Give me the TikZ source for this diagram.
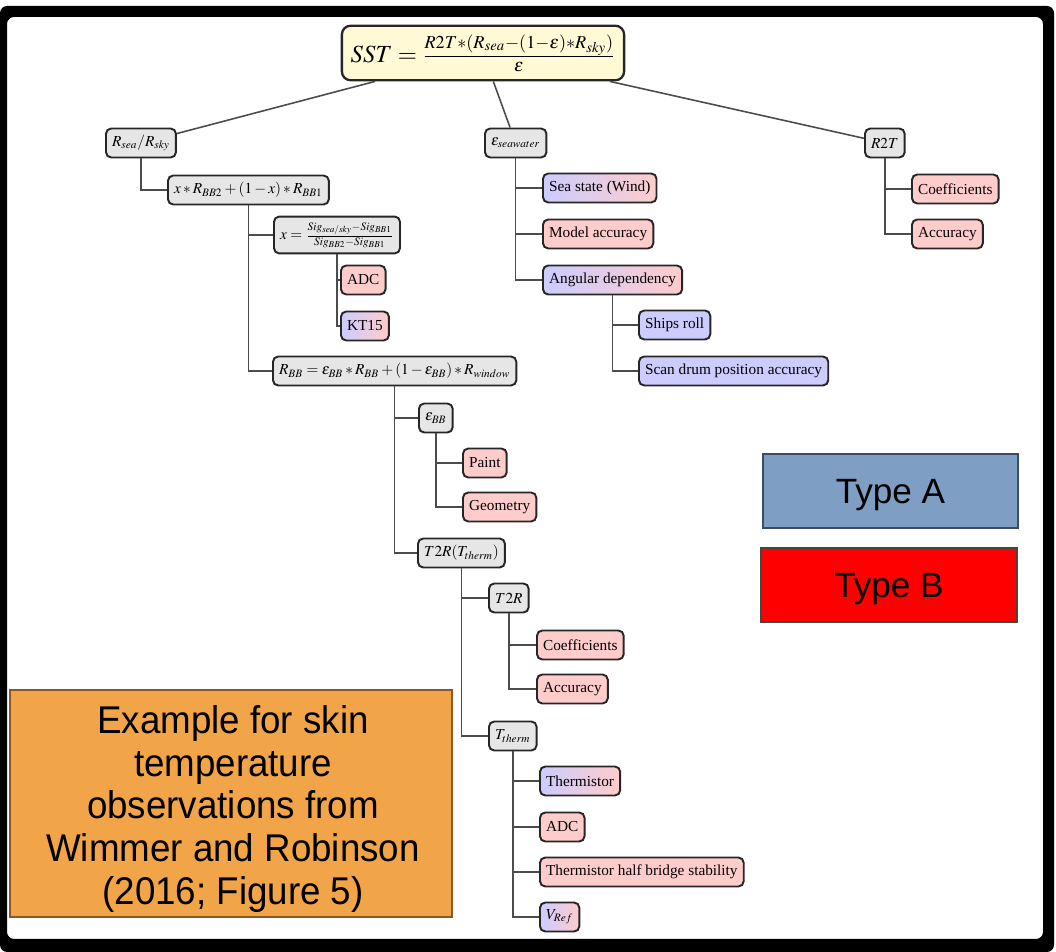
\documentclass[tikz,border=0pt]{standalone}
\usepackage{amsmath}
\usepackage{mathptmx}
\usepackage[no-math]{fontspec}
\setmainfont{Liberation Serif}
\newfontfamily\nodefont{Liberation Serif}
\newfontfamily\notefont[FakeStretch=0.95]{Liberation Sans}
\newfontfamily\legendfont{Liberation Sans}
\usepackage{tikz}
\usetikzlibrary{arrows}
\usetikzlibrary{positioning}

\definecolor{sstfill}{RGB}{255,249,214}
\definecolor{boxgray}{RGB}{230,230,230}
\definecolor{typeA}{RGB}{126,158,195}
\definecolor{typeAline}{RGB}{60,76,100}
\definecolor{typeBline}{RGB}{70,72,60}
\definecolor{notefill}{RGB}{242,165,72}
\definecolor{noteline}{RGB}{140,90,40}
\newcommand\boxfont{\nodefont\fontsize{8.7}{11}\selectfont\medmuskip=2.5mu\relax}

\begin{document}
\begin{tikzpicture}
	[x=0.02cm,y=-0.02cm,
	tree/.style={draw=black!70,line width=0.9pt},
	box/.style={draw=black!85,line width=1.1pt,rounded corners=3pt,inner xsep=3.5pt,minimum height=16.5pt,font=\boxfont,anchor=west},
	var/.style={box,fill=boxgray},
	typb/.style={box,fill=red!20},
	typa/.style={box,fill=blue!20},
	mixed/.style={box,left color=blue!20,right color=red!20},
	legend/.style={line width=1.2pt,text height=14pt,text depth=0pt,font=\legendfont\fontsize{20}{24}\selectfont}]
	\useasboundingbox (0,0) rectangle (1056,952);
	% frame
	\fill[black,even odd rule,rounded corners=4pt] (0,6) rectangle (1054,952) (7,17) rectangle (1043,939);

	\node[draw=black!85,line width=1.3pt,rounded corners=5pt,fill=sstfill,inner sep=5pt,font=\fontsize{14}{16}\selectfont] (sst) at (483,53)
		{$SST=\frac{R2T*(R_{sea}-(1-\varepsilon)*R_{sky})}{\varepsilon}$};

	% left branch
	\node[var] (rs) at (105,143) {$R_{sea}/R_{sky}$};
	\node[var] (lin) at (167,190) {$x*R_{BB2}+(1-x)*R_{BB1}$};
	\node[var] (xfrac) at (273,235) {$x=\frac{Sig_{sea/sky}-Sig_{BB1}}{Sig_{BB2}-Sig_{BB1}}$};
	\node[typb] (adcA) at (340,280) {ADC};
	\node[mixed] (kt) at (340,326) {KT15};
	\node[var] (rbb) at (272,371) {$R_{BB}=\varepsilon_{BB}*R_{BB}+(1-\varepsilon_{BB})*R_{window}$};
	\node[var] (ebb) at (418,418) {$\varepsilon_{BB}$};
	\node[typb] (paint) at (462,463) {Paint};
	\node[typb] (geom) at (462,507) {Geometry};
	\node[var] (t2rt) at (417,553) {$T2R(T_{therm})$};
	\node[var] (t2r) at (488,598) {$T2R$};
	\node[typb] (coefB) at (536,645) {Coefficients};
	\node[typb] (accB) at (536,689) {Accuracy};
	\node[var] (tth) at (488,736) {$T_{therm}$};
	\node[mixed] (thm) at (539,781) {Thermistor};
	\node[typb] (adcB) at (539,827) {ADC};
	\node[typb] (half) at (539,872) {Thermistor half bridge stability};
	\node[mixed] (vref) at (539,917) {$V_{Ref}$};

	% middle branch
	\node[var] (esw) at (484,143) {$\varepsilon_{seawater}$};
	\node[mixed] (sea) at (542,188) {Sea state (Wind)};
	\node[typb] (model) at (542,234) {Model accuracy};
	\node[mixed] (ang) at (542,280) {Angular dependency};
	\node[typa] (roll) at (638,325) {Ships roll};
	\node[typa] (scan) at (638,371) {Scan drum position accuracy};

	% right branch
	\node[var] (r2t) at (864,143) {$R2T$};
	\node[typb] (coefA) at (911,189) {Coefficients};
	\node[typb] (accA) at (911,234) {Accuracy};

	\foreach \c in {rs,esw,r2t}
	\draw[tree] (sst) -- (\c);

	\foreach \p/\c in
	{rs/lin, lin/xfrac, xfrac/adcA, xfrac/kt, lin/rbb, rbb/ebb, ebb/paint, ebb/geom,
	rbb/t2rt, t2rt/t2r, t2r/coefB, t2r/accB, t2rt/tth, tth/thm, tth/adcB, tth/half, tth/vref,
	esw/sea, esw/model, esw/ang, ang/roll, ang/scan, r2t/coefA, r2t/accA}
	\draw[tree] (\p.south) |- (\c.west);

	% legend
	\node[legend,draw=typeAline,fill=typeA,minimum width=255*0.02cm,minimum height=74*0.02cm] (tA) at (890.5,491) {Type A};
	\node[legend,draw=typeBline,fill=red,minimum width=256*0.02cm,minimum height=74*0.02cm] (tB) at (889,585) {Type B};

	% note
	\filldraw[draw=noteline,fill=notefill,line width=1.2pt] (10,690) rectangle (452,917);
	\node[align=center,font=\notefont\fontsize{22}{24.4}\selectfont] (note) at (233,809)
		{Example for skin\\temperature\\observations from\\Wimmer and Robinson\\(2016; Figure 5)};
\end{tikzpicture}
\end{document}
